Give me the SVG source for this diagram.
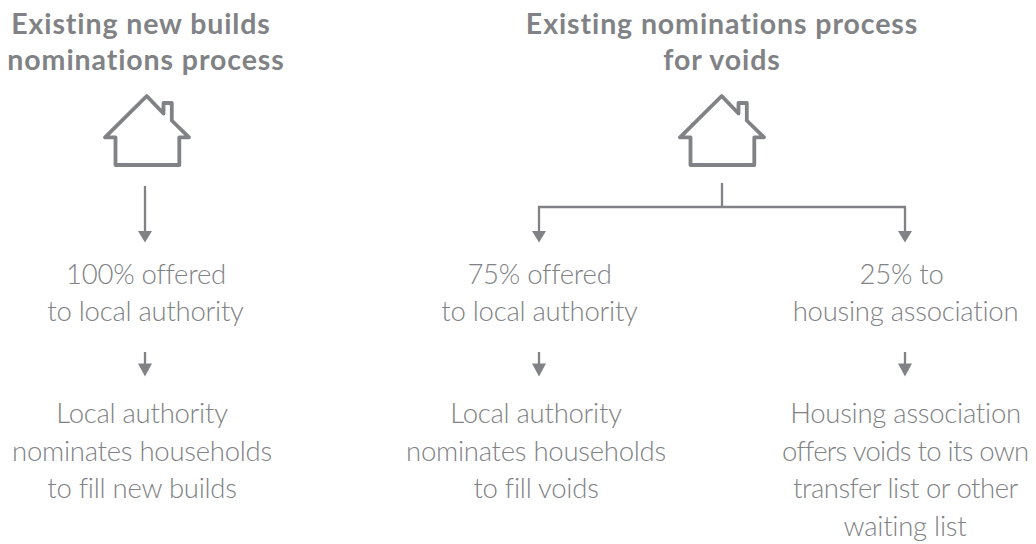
<svg xmlns="http://www.w3.org/2000/svg" width="1036" height="544" viewBox="0 0 1036 544">
<style>
text{font-family:"Lato","Liberation Sans",sans-serif;text-anchor:middle;fill:#808285}
.t{font-size:28.500px;font-weight:700;letter-spacing:.9px}
.b{font-size:27.500px;font-weight:300;letter-spacing:-.25px}
.h{fill:none;stroke:#808285;stroke-width:3.800;stroke-linejoin:round;stroke-linecap:round}
.c{fill:none;stroke:#808285;stroke-width:2.300}
.a{fill:#808285}
</style>
<defs>
<path id="house" class="h" d="M146.700 96L105 137.300H115.500V165H179.300V137.300H189L171.800 120.500V103H163.500V113.500Z"/>
<polygon id="head" class="a" points="-7,0 7,0 0,11.500"/>
<polygon id="head2" class="a" points="-7,0 7,0 0,13"/>
</defs>
<g id="title-left"><text class="t" x="141" y="34">Existing new builds</text><text class="t" x="146" y="70">nominations process</text></g>
<g id="title-right"><text class="t" x="722" y="34">Existing nominations process</text><text class="t" x="722" y="70">for voids</text></g>
<g id="house-left"><use href="#house"/></g>
<g id="house-right"><use href="#house" x="575"/></g>
<g id="connectors">
<path class="c" d="M145 186V232"/><use href="#head" x="145" y="231"/>
<path class="c" d="M145 352V364"/><use href="#head2" x="145" y="363.500"/>
<path class="c" d="M722 183V207M539 232V207H905V232"/><use href="#head" x="539" y="231"/><use href="#head" x="905" y="231"/>
<path class="c" d="M539 352V364"/><use href="#head2" x="539" y="363.500"/>
<path class="c" d="M905 352V364"/><use href="#head2" x="905" y="363.500"/>
</g>
<g id="n1"><text class="b" x="146" y="284">100% offered</text><text class="b" x="145.500" y="321">to local authority</text></g>
<g id="n2"><text class="b" x="142" y="423">Local authority</text><text class="b" x="142" y="460.500">nominates households</text><text class="b" x="142" y="498">to fill new builds</text></g>
<g id="n3"><text class="b" x="539.500" y="284">75% offered</text><text class="b" x="539.500" y="321">to local authority</text></g>
<g id="n4"><text class="b" x="536" y="423">Local authority</text><text class="b" x="536" y="460.500">nominates households</text><text class="b" x="536" y="498">to fill voids</text></g>
<g id="n5"><text class="b" x="901.500" y="284">25% to</text><text class="b" x="905.500" y="321">housing association</text></g>
<g id="n6"><text class="b" x="905.500" y="423">Housing association</text><text class="b" x="905.500" y="460.500" textLength="247">offers voids to its own</text><text class="b" x="905.500" y="498" textLength="225">transfer list or other</text><text class="b" x="905" y="535.500">waiting list</text></g>
</svg>
